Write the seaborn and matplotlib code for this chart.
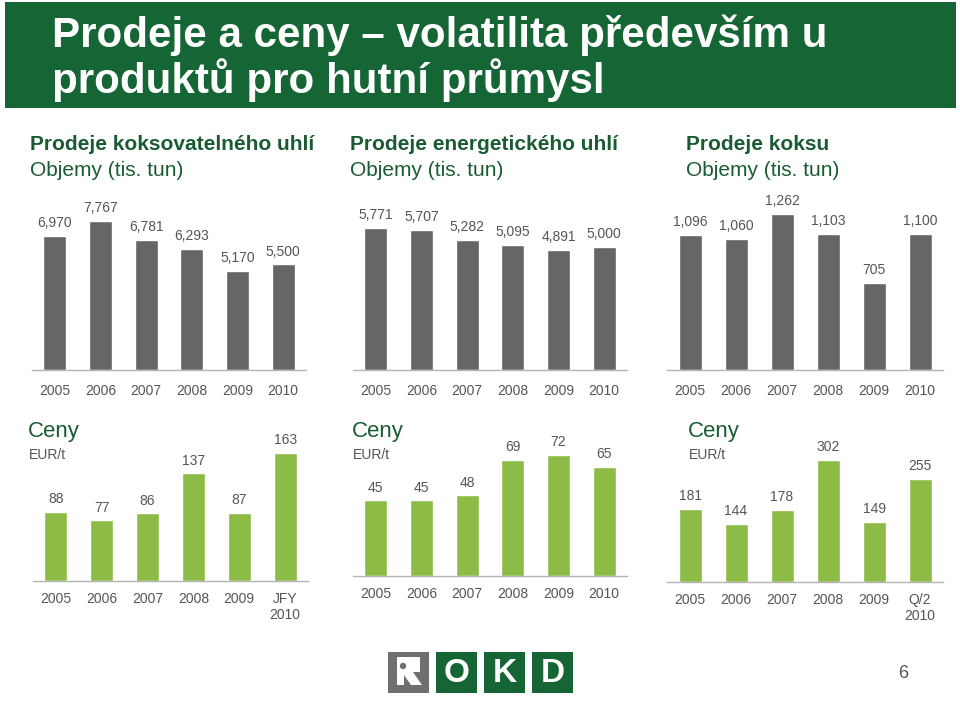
import matplotlib
matplotlib.use("Agg")
import matplotlib.pyplot as plt
import seaborn as sns
from matplotlib.patches import Rectangle, Polygon, Circle

# ==========================================
# 1. DATA
# ==========================================
years = ["2005", "2006", "2007", "2008", "2009", "2010"]
years_jfy = ["2005", "2006", "2007", "2008", "2009", "JFY\n2010"]
years_q2 = ["2005", "2006", "2007", "2008", "2009", "Q/2\n2010"]

coking_volume = [6970, 7767, 6781, 6293, 5170, 5500]
energy_volume = [5771, 5707, 5282, 5095, 4891, 5000]
coke_volume = [1096, 1060, 1262, 1103, 705, 1100]

coking_price = [88, 77, 86, 137, 87, 163]
energy_price = [45, 45, 48, 69, 72, 65]
coke_price = [181, 144, 178, 302, 149, 255]

panel_titles = ["Prodeje koksovatelného uhlí", "Prodeje energetického uhlí", "Prodeje koksu"]
volume_unit = "Objemy (tis. tun)"
price_title = "Ceny"
price_unit = "EUR/t"
main_title = "Prodeje a ceny – volatilita především u\nproduktů pro hutní průmysl"
page_no = "6"

# colours
GREEN_DARK = "#156535"
GREEN_TXT = "#1a5c32"
GREY_BAR = "#666666"
GREEN_BAR = "#8cbb46"
TXT_GREY = "#555555"
AXIS_GREY = "#b4b4b4"
LOGO_GREY = "#6f6f6f"

W, H = 960, 701

sns.set_theme(style="white")
plt.rcParams["font.family"] = ["Liberation Sans", "DejaVu Sans"]

fig = plt.figure(figsize=(W / 100, H / 100), dpi=100)
fig.patch.set_facecolor("white")

# background axes in pixel coordinates for banner, headings and logo
bg = fig.add_axes([0, 0, 1, 1])
bg.set_xlim(0, W)
bg.set_ylim(H, 0)
bg.axis("off")

bg.add_patch(Rectangle((5, 2), 951, 106, color=GREEN_DARK, lw=0))
bg.text(52, 58, main_title, color="white", fontsize=30.3, fontweight="bold",
        va="center", ha="left", linespacing=1.05)

for x0, t in zip([30, 350, 686], panel_titles):
    bg.text(x0, 144, t, color=GREEN_TXT, fontsize=15, fontweight="bold", va="center")
    bg.text(x0, 171, volume_unit, color=GREEN_TXT, fontsize=15, va="center")

for x0 in [28, 352, 688]:
    bg.text(x0, 431, price_title, color=GREEN_TXT, fontsize=16, va="center")
    bg.text(x0 + 1, 455, price_unit, color=TXT_GREY, fontsize=10, va="center")

# logo
bg.add_patch(Rectangle((388, 652), 41, 41, color=LOGO_GREY, lw=0))
bg.add_patch(Polygon([(397, 657), (420, 657), (420, 672), (413, 672), (422, 685),
                      (411, 685), (404, 675), (404, 685), (397, 685)],
                     color="white", lw=0))
bg.add_patch(Circle((403, 666), 3.2, color=LOGO_GREY, lw=0))
for i, letter in enumerate(["O", "K", "D"]):
    lx = 436 + i * 48
    bg.add_patch(Rectangle((lx, 652), 41, 41, color=GREEN_DARK, lw=0))
    bg.text(lx + 20.5, 673, letter, color="white", fontsize=24, fontweight="bold",
            ha="center", va="center")

bg.text(903, 674, page_no, color=TXT_GREY, fontsize=13, ha="center", va="center")


# ==========================================
# 2. BAR PANELS
# ==========================================
def panel(x0, x1, y_top, y_bot, cats, vals, color, ymax, pad):
    ax = fig.add_axes([x0 / W, 1 - y_bot / H, (x1 - x0) / W, (y_bot - y_top) / H])
    sns.barplot(x=cats, y=vals, color=color, width=0.5, saturation=1, ax=ax)
    ax.set_xlim(-0.5, len(cats) - 0.5)
    ax.set_ylim(0, ymax)
    ax.set_facecolor("none")
    for s in ["top", "left", "right"]:
        ax.spines[s].set_visible(False)
    ax.spines["bottom"].set_color(AXIS_GREY)
    ax.spines["bottom"].set_linewidth(1)
    ax.set_yticks([])
    ax.set_xlabel("")
    ax.set_ylabel("")
    ax.tick_params(axis="x", which="major", length=0, pad=pad,
                   labelsize=10, labelcolor=TXT_GREY)
    ax.set_xticks([i - 0.5 for i in range(len(cats) + 1)], minor=True)
    ax.tick_params(axis="x", which="minor", length=4, color=AXIS_GREY,
                   width=1, direction="out")
    ax.bar_label(ax.containers[0], labels=[f"{v:,}" for v in vals], padding=4,
                 fontsize=10, color=TXT_GREY)
    return ax


panel(32, 306, 195, 370, years, coking_volume, GREY_BAR, 9100, 10)
panel(353, 627, 195, 370, years, energy_volume, GREY_BAR, 7110, 10)
panel(667, 943, 195, 370, years, coke_volume, GREY_BAR, 1416, 10)

panel(33, 308, 445, 581, years_jfy, coking_price, GREEN_BAR, 173, 8)
panel(353, 627, 445, 576, years, energy_price, GREEN_BAR, 77.8, 8)
panel(667, 943, 445, 582, years_q2, coke_price, GREEN_BAR, 338, 8)

fig.savefig("out.png", dpi=100, facecolor="white")
